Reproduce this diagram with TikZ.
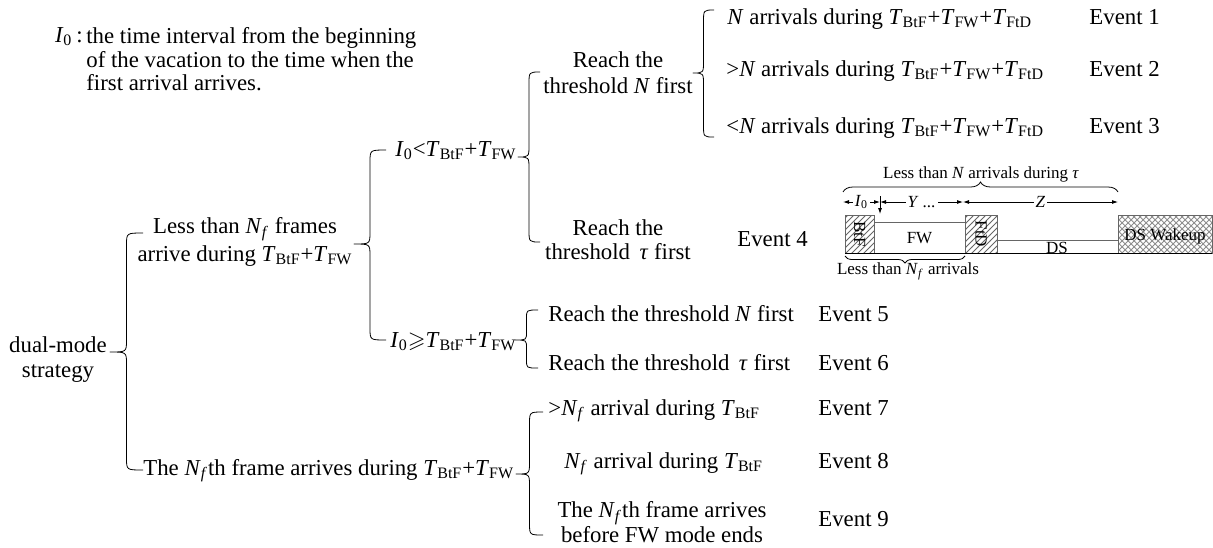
\documentclass[tikz,border=0pt]{standalone}
\usepackage{amssymb}
\usepackage{fontspec}
\setmainfont{Liberation Serif}
\usetikzlibrary{calc}
\usetikzlibrary{patterns}
\usetikzlibrary{arrows.meta}
\usetikzlibrary{decorations.pathreplacing}
\tikzset{>=latex}
\tikzstyle{txt}=[inner sep=0pt,font=\fontsize{11.4}{13}\selectfont]
\tikzstyle{sml}=[inner sep=0pt,font=\fontsize{8.5}{10}\selectfont]
\tikzstyle{curl}=[thin,line join=round]
\tikzstyle{dim}=[thin,{Latex[length=3pt,width=2pt]}-{Latex[length=3pt,width=2pt]}]
\tikzstyle{slot}=[thin,draw=black!60]
\tikzstyle{hatch}=[slot,pattern=north east lines,pattern color=black!60]
\newcommand\Io{\textit{I}\textsubscript{0}}
\newcommand\Nf{\textit{N}\textsubscript{\textit{f}}}
\newcommand\Tb{\textit{T}\textsubscript{BtF}}
\newcommand\Tw{\textit{T}\textsubscript{FW}}
\newcommand\Td{\textit{T}\textsubscript{FtD}}
\newcommand\curly[4][6pt]{% top end, tip, bottom end
  \draw[curl] let \p1=(#2), \p2=(#3), \p3=(#4), \p4=($(#2)!.5!(#3)$) in
    (\p1) .. controls (\x4,\y1) .. (\x4,{\y1-#1})
    -- (\x4,{\y2+#1}) .. controls (\x4,\y2) .. (\p2)
    .. controls (\x4,\y2) .. (\x4,{\y2-#1})
    -- (\x4,{\y3+#1}) .. controls (\x4,\y3) .. (\p3);
}

\begin{document}
\begin{tikzpicture}[x=0.5pt,y=-0.5pt]
  \useasboundingbox (0,0) rectangle (1213,547);

  % NOTE
  \node[txt,anchor=base east] (defkey) at (83,42) {\Io\,:};
  \node[txt,anchor=north west,align=left,font=\fontsize{11.4}{11.8}\selectfont] (defnote) at (86,27)
    {the time interval from the beginning\\of the vacation to the time when the\\first arrival arrives.};

  % TREE
  \node[txt,anchor=north,align=center,font=\fontsize{11.4}{12.5}\selectfont] (dual) at (58,336) {dual-mode\\strategy};
  \node[txt,anchor=north,align=center,font=\fontsize{11.4}{14}\selectfont] (lessNf) at (245,217)
    {Less than \Nf\ frames\\arrive during \Tb+\Tw};
  \node[txt,anchor=base west] (nfth) at (143,475) {The \Nf{}th frame arrives during \Tb+\Tw};
  \node[txt,anchor=base west] (ilt) at (395,156) {\Io<\Tb+\Tw};
  \node[txt,anchor=base west] (ige) at (390,347) {\Io$\geqslant$\Tb+\Tw};
  \node[txt,anchor=north,align=center] (reachN) at (618,51) {Reach the\\threshold \textit{N} first};
  \node[txt,anchor=north,align=center,font=\fontsize{11.4}{12}\selectfont] (reachTau) at (618,219)
    {Reach the\\threshold \,\textit{τ} first};
  \node[txt,anchor=base west] (arrEq) at (727,24) {\textit{N} arrivals during \Tb+\Tw+\Td};
  \node[txt,anchor=base west] (arrGt) at (726,76) {>\textit{N} arrivals during \Tb+\Tw+\Td};
  \node[txt,anchor=base west] (arrLt) at (726,133) {<\textit{N} arrivals during \Tb+\Tw+\Td};
  \node[txt,anchor=base west] (reachN2) at (548,321) {Reach the threshold \textit{N} first};
  \node[txt,anchor=base west] (reachTau2) at (548,370) {Reach the threshold \,\textit{τ} first};
  \node[txt,anchor=base west] (gtNf) at (548,415) {>\Nf\ arrival during \Tb};
  \node[txt,anchor=base west] (eqNf) at (564,468) {\Nf\ arrival during \Tb};
  \node[txt,anchor=north,align=center,font=\fontsize{11.4}{11.3}\selectfont] (nfthFW) at (662,501)
    {The \Nf{}th frame arrives\\before FW mode ends};

  % EVENTS
  \node[txt,anchor=base west] (ev1) at (1089,24) {Event 1};
  \node[txt,anchor=base west] (ev2) at (1089,76) {Event 2};
  \node[txt,anchor=base west] (ev3) at (1089,133) {Event 3};
  \node[txt,anchor=base west] (ev4) at (737,246) {Event 4};
  \node[txt,anchor=base west] (ev5) at (818,321) {Event 5};
  \node[txt,anchor=base west] (ev6) at (818,370) {Event 6};
  \node[txt,anchor=base west] (ev7) at (818,415) {Event 7};
  \node[txt,anchor=base west] (ev8) at (818,468) {Event 8};
  \node[txt,anchor=base west] (ev9) at (818,526) {Event 9};

  % BRACES
  \coordinate (b1t) at (143,233); \coordinate (b1m) at (110,352); \coordinate (b1b) at (143,470);
  \coordinate (b2t) at (386,150); \coordinate (b2m) at (354,244); \coordinate (b2b) at (386,340);
  \coordinate (b3t) at (540,72);  \coordinate (b3m) at (518,157); \coordinate (b3b) at (540,242);
  \coordinate (b4t) at (714,10);  \coordinate (b4m) at (693,73);  \coordinate (b4b) at (714,137);
  \coordinate (b5t) at (538,310); \coordinate (b5m) at (515,340); \coordinate (b5b) at (538,368);
  \coordinate (b6t) at (543,412); \coordinate (b6m) at (516,474); \coordinate (b6b) at (543,535);
  \curly{b1t}{b1m}{b1b}
  \curly{b2t}{b2m}{b2b}
  \curly{b3t}{b3m}{b3b}
  \curly{b4t}{b4m}{b4b}
  \curly[4pt]{b5t}{b5m}{b5b}
  \curly{b6t}{b6m}{b6b}

  % TIMELINE
  \coordinate (a0) at (843,202);
  \coordinate (a1) at (880,202);
  \coordinate (a2) at (963,202);
  \coordinate (a3) at (1118,202);
  \coordinate (d0) at (880,196); \coordinate (d1) at (880,214);
  \coordinate (u0) at (843,192); \coordinate (u1) at (1118,192);
  \coordinate (w0) at (965,256); \coordinate (w1) at (845,256);
  \draw[decorate,decoration={brace,amplitude=5pt}] (u0) -- (u1);
  \node[sml] (lessN) at (981,174) {Less than \textit{N} arrivals during \textit{τ}};
  \draw[dim] (a0) -- node[sml,fill=white,inner xsep=1pt] (lI) {\Io} (a1);
  \draw[dim] (a1) -- node[sml,fill=white,inner xsep=1pt] (lY) {\textit{Y} ...} (a2);
  \draw[dim] (a2) -- node[sml,fill=white,inner xsep=1pt] (lZ) {\textit{Z}} (a3);
  \draw[-{Latex[length=3pt,width=2pt]}] (d0) -- (d1);

  \draw[hatch] (845,215) rectangle (874,253);
  \node[sml,rotate=-90] (btf) at (859.5,234) {BtF};
  \draw[slot] (874,222) rectangle (965,253);
  \node[sml] (fw) at (919.5,238) {FW};
  \draw[hatch] (965,215) rectangle (997,253);
  \node[sml,rotate=-90] (ftd) at (981,234) {FtD};
  \draw[slot] (997,240) rectangle (1118,253);
  \node[sml] (ds) at (1057,248) {DS};
  \draw[slot,pattern=crosshatch,pattern color=black!45] (1118,215) rectangle (1212,253);
  \node[sml] (dsw) at (1165,236) {DS Wakeup};
  \draw (845,253) -- (1212,253); % base line

  \draw[decorate,decoration={brace,amplitude=3.5pt}] (w0) -- (w1);
  \node[sml] (lessNf2) at (908,271) {Less than \Nf\ arrivals};
\end{tikzpicture}
\end{document}
